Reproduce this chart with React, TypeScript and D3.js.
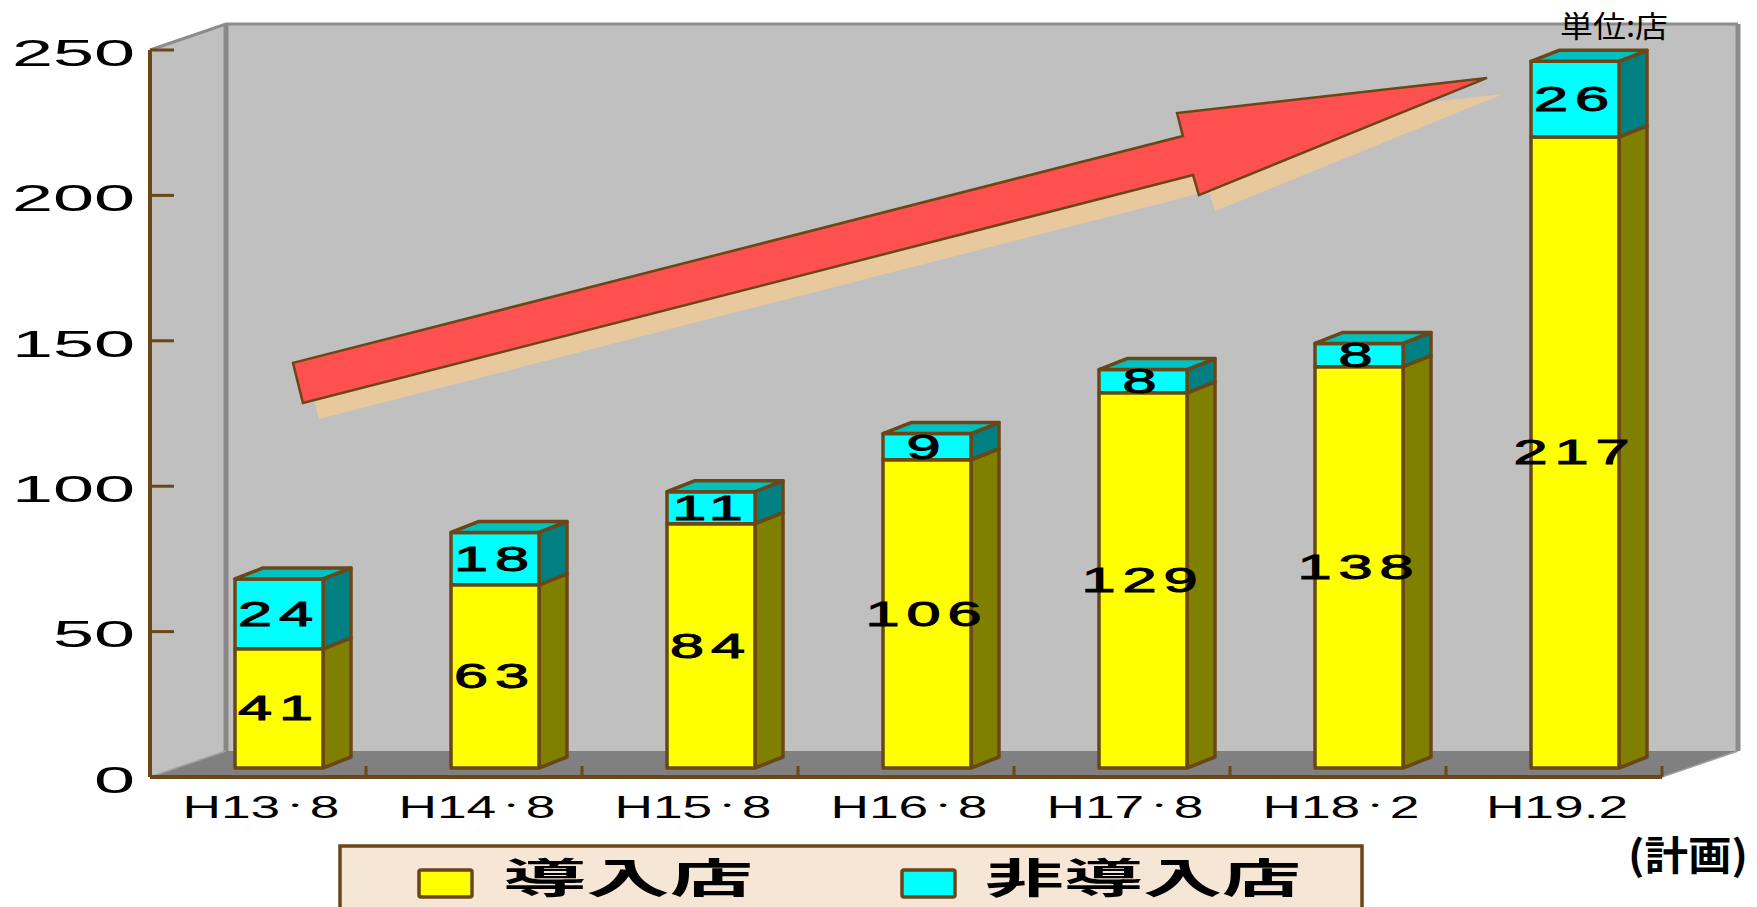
import React from "react";
import * as d3 from "d3";

const categories = ["H13・8", "H14・8", "H15・8", "H16・8", "H17・8", "H18・2", "H19.2"];
const introduced = [41, 63, 84, 106, 129, 138, 217];
const notIntroduced = [24, 18, 11, 9, 8, 8, 26];
const yTicks = [0, 50, 100, 150, 200, 250];
const seriesNames = ["導入店", "非導入店"];
// trend arrow outline, in (category index, value) space
const arrowPts: [number, number][] = [
  [0.662, 142.4], [4.782, 220.4], [4.755, 228.3], [6.19, 240.4],
  [4.856, 200.1], [4.829, 207.0], [0.708, 128.6],
];

const W = 1757, H = 907;
const BROWN = "#6b4616";
const LATIN = "'Liberation Sans', Arial, sans-serif";
const CJK = "'Noto Sans CJK JP', 'Noto Sans', sans-serif";

const X0 = 150, X1 = 1662, Y0 = 777, YT = 50;
const DX = 76, DY = -26; // floor depth
const BDX = 28, BDY = -11; // bar depth
const BAR_SHIFT_X = 21, BAR_SHIFT_Y = -9, BAR_W = 88;

const charW = (ch: string) => (ch === "H" ? 0.722 : ch === "." ? 0.278 : 0.556);

function CatLabel({ label, cx, cy }: { label: string; cx: number; cy: number }) {
  const fs = 31, sx = 1.72;
  const chars = Array.from(label);
  const widths = chars.map(ch => charW(ch) * fs);
  const total = d3.sum(widths);
  let acc = -total / 2;
  return (
    <text transform={`translate(${cx},${cy}) scale(${sx},1)`} dominantBaseline="central"
      fontFamily={LATIN} fontSize={fs} fill="#000">
      {chars.map((ch, k) => {
        const mid = acc + widths[k] / 2;
        acc += widths[k];
        const isDot = ch === "・";
        return (
          <tspan key={k} x={mid} y={isDot ? -3 : 0} textAnchor="middle" fontFamily={isDot ? CJK : LATIN}
            fontSize={isDot ? 17 : fs}>{ch}</tspan>
        );
      })}
    </text>
  );
}

export default function App() {
  const x = d3.scaleBand<string>().domain(categories).range([X0, X1]).padding(0);
  const xi = d3.scaleLinear().domain([0, categories.length]).range([X0, X1]);
  const y = d3.scaleLinear().domain([0, 250]).range([Y0, YT]);
  const line = d3.line<[number, number]>().x(d => xi(d[0])).y(d => y(d[1]));
  const arrowPath = line(arrowPts) + "Z";

  const poly = (pts: [number, number][]) => pts.map(p => p.join(",")).join(" ");

  const bars = categories.map((c, i) => {
    const cx = (x(c) as number) + x.bandwidth() / 2 + BAR_SHIFT_X;
    const xl = cx - BAR_W / 2, xr = cx + BAR_W / 2;
    const yb = y(0) + BAR_SHIFT_Y;
    const ym = y(introduced[i]) + BAR_SHIFT_Y;
    const yt = y(introduced[i] + notIntroduced[i]) + BAR_SHIFT_Y;
    return { c, i, cx, xl, xr, yb, ym, yt };
  });

  const sw = 3.5;
  const barLabel = (v: number, cx: number, cy: number) => (
    <text transform={`translate(${cx},${cy}) scale(1.75,1)`} textAnchor="middle" dominantBaseline="central"
      style={{ letterSpacing: "4px" }} stroke="#000" strokeWidth={1}>{v}</text>
  );

  return (
    <svg width={W} height={H} style={{ position: "absolute", left: 0, top: 0, background: "#fff" }}>
      {/* left wall */}
      <polygon points={poly([[X0, YT], [X0 + DX, YT + DY], [X0 + DX, Y0 + DY], [X0, Y0]])} fill="#c0c0c0" />
      {/* back wall */}
      <rect x={X0 + DX} y={YT + DY} width={X1 - X0} height={Y0 - YT} fill="#c0c0c0" />
      {/* floor */}
      <polygon points={poly([[X0, Y0], [X1, Y0], [X1 + DX, Y0 + DY], [X0 + DX, Y0 + DY]])} fill="#808080" />
      {/* wall edges */}
      <line x1={X0 + DX} y1={YT + DY} x2={X0 + DX} y2={Y0 + DY} stroke="#888" strokeWidth={5} />
      <line x1={X1 + DX} y1={YT + DY} x2={X1 + DX} y2={Y0 + DY} stroke="#8c8c8c" strokeWidth={5} />
      <polyline points={poly([[X0, YT], [X0 + DX, YT + DY], [X1 + DX, YT + DY]])} fill="none" stroke="#8c8c8c" strokeWidth={3} />
      <line x1={X0} y1={Y0} x2={X0 + DX} y2={Y0 + DY} stroke="#a0a0a0" strokeWidth={1.5} />
      <line x1={X1} y1={Y0} x2={X1 + DX} y2={Y0 + DY} stroke="#a0a0a0" strokeWidth={1.5} />

      {/* arrow shadow + arrow */}
      <path d={arrowPath} fill="#e8c99d" transform="translate(16,16)" />
      <path d={arrowPath} fill="#ff5050" stroke={BROWN} strokeWidth={2.5} strokeLinejoin="miter" />

      {/* bars */}
      {bars.map(b => (
        <g key={b.c} stroke={BROWN} strokeWidth={sw} strokeLinejoin="round">
          <polygon points={poly([[b.xr, b.yb], [b.xr + BDX, b.yb + BDY], [b.xr + BDX, b.ym + BDY], [b.xr, b.ym]])} fill="#808000" />
          <rect x={b.xl} y={b.ym} width={BAR_W} height={b.yb - b.ym} fill="#ffff00" />
          <polygon points={poly([[b.xr, b.ym], [b.xr + BDX, b.ym + BDY], [b.xr + BDX, b.yt + BDY], [b.xr, b.yt]])} fill="#008080" />
          <rect x={b.xl} y={b.yt} width={BAR_W} height={b.ym - b.yt} fill="#00ffff" />
          <polygon points={poly([[b.xl, b.yt], [b.xl + BDX, b.yt + BDY], [b.xr + BDX, b.yt + BDY], [b.xr, b.yt]])} fill="#00c0c0" />
        </g>
      ))}
      {bars.map(b => (
        <g key={"l" + b.c} fontFamily={LATIN} fontSize={35} fill="#000">
          {barLabel(introduced[b.i], b.cx, (b.yb + b.ym) / 2)}
          {barLabel(notIntroduced[b.i], b.cx, (b.ym + b.yt) / 2)}
        </g>
      ))}

      {/* y axis */}
      <line x1={X0} y1={YT} x2={X0} y2={Y0} stroke={BROWN} strokeWidth={4} />
      {yTicks.map(t => (
        <g key={t}>
          <line x1={X0} y1={y(t)} x2={X0 + 24} y2={y(t)} stroke={BROWN} strokeWidth={3} />
          <text transform={`translate(${X0 - 15},${y(t) + 3}) scale(2.05,1)`} textAnchor="end" dominantBaseline="central"
            fontFamily={LATIN} fontSize={36} fill="#000">{t}</text>
        </g>
      ))}
      {/* x axis */}
      <line x1={X0} y1={Y0} x2={X1} y2={Y0} stroke={BROWN} strokeWidth={4} />
      {categories.map(c => (
        <g key={c}>
          <line x1={(x(c) as number) + x.bandwidth()} y1={Y0} x2={(x(c) as number) + x.bandwidth()} y2={Y0 - 11} stroke={BROWN} strokeWidth={3} />
          <CatLabel label={c} cx={(x(c) as number) + x.bandwidth() / 2 + 3} cy={807} />
        </g>
      ))}

      {/* unit */}
      <text x={1560} y={24} dominantBaseline="central" fontFamily={CJK} fontSize={30} fill="#000"
        textLength={108} lengthAdjust="spacingAndGlyphs">単位:店</text>
      <text x={1628} y={853} dominantBaseline="central" fontFamily={CJK} fontWeight="bold" fontSize={40} fill="#000"
        textLength={120} lengthAdjust="spacingAndGlyphs">(計画)</text>

      {/* legend */}
      <rect x={340} y={846} width={1022} height={120} fill="#f5e6d6" stroke={BROWN} strokeWidth={3.5} />
      <rect x={419} y={870} width={53} height={27} rx={2} fill="#ffff00" stroke={BROWN} strokeWidth={3.5} />
      <text x={503} y={875} dominantBaseline="central" fontFamily={CJK} fontWeight="bold" fontSize={41} fill="#000"
        textLength={250} lengthAdjust="spacingAndGlyphs">{seriesNames[0]}</text>
      <rect x={902} y={870} width={53} height={27} rx={2} fill="#00ffff" stroke={BROWN} strokeWidth={3.5} />
      <text x={985} y={875} dominantBaseline="central" fontFamily={CJK} fontWeight="bold" fontSize={41} fill="#000"
        textLength={316} lengthAdjust="spacingAndGlyphs">{seriesNames[1]}</text>
    </svg>
  );
}
